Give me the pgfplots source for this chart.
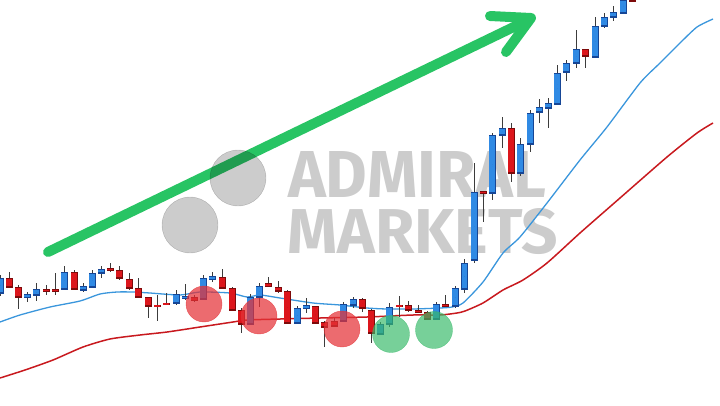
\documentclass[border=0pt]{standalone}
\usepackage{fontspec}
\usepackage{graphicx}
\usepackage{pgfplots}
\usepackage{pgfplotstable}
\pgfplotsset{compat=1.18}
\newfontfamily\wmfont{Fira Sans}
\definecolor{bluefill}{RGB}{48,138,228}
\definecolor{bluedark}{RGB}{22,70,150}
\definecolor{redfill}{RGB}{220,22,28}
\definecolor{reddark}{RGB}{125,10,10}
\definecolor{wick}{RGB}{60,60,60}
\definecolor{mablue}{RGB}{58,150,220}
\definecolor{mared}{RGB}{200,25,30}
\definecolor{arrowgreen}{RGB}{40,196,100}
\definecolor{wmgray}{RGB}{204,204,204}
\definecolor{circred}{RGB}{228,50,55}
\definecolor{circgreen}{RGB}{55,185,105}

\pgfplotstableread{
x top bot hi lo
0 278 293 275 296
27 294 297 292 302
36 289 295 283 301
64 272 289 266 289
83 286 290 283 292
92 273 287 270 287
101 269 273 266 278
176 294 303 290 305
185 296 298 284 300
203 278 299 275 299
212 276 279 272 282
250 297 324 294 325
259 286 297 283 307
297 308 323 306 324
306 305 308 298 313
343 304 321 302 322
353 299 305 297 308
380 324 334 322 335
389 307 324 303 327
436 304 319 302 320
455 288 306 286 308
464.5 263 289 259 293
474 192 260 163 263
492 135 193 133 200
502 128 135 117 148
520 144 173 138 176
530 113 144 110 152
539 107 112 99 123
548 103 108 98 128
557 73 104 65 104
566 63 72 60 81
576 49 63 30 68
595 26 57 17 57
604 17 26 13 28
613 12 17 6 21
623 0 13 -3 14
}\bluetab

\pgfplotstableread{
x top bot hi lo
9 278 287 272 288
18 287 297 285 309
46 289 291 285 295
55 289 291 273 295
74 272 289 270 290
110 268 270 263 272
119 270 278 266 280
129 279 288 273 290
138 288 297 278 297
148 297 306 297 318
157 305 306 295 321
166 303 304 293 305
194 297 300 295 302
222 277 288 269 289
232 288 310 287 311
241 310 324 308 333
268 283 286 277 287
278 287 291 281 293
287 291 323 290 324
315 306 323 306 324
324 322 327 321 347
334 321 326 318 327
362 299 308 298 312
371 310 333 309 343
399 305 306 296 317
408 305 310 301 312
418 310 312 305 313
427 312 319 311 320
445 304 306 295 306
483 191 193 191 222
511 128 173 123 182
585 49 56 49 68
632 -3 1 -5 2
}\redtab

\pgfplotsset{
  wickstyle/.style={only marks, mark size=0pt, mark options={draw=none, fill=none}, forget plot,
    error bars/.cd, y dir=both, y explicit, error mark=none,
    error bar style={draw=wick, solid, line width=1pt}},
  bodystyle/.style 2 args={only marks, mark size=0pt, mark options={draw=none, fill=none}, forget plot,
    error bars/.cd, y dir=both, y explicit, error mark=none,
    error bar style={draw=#1, solid, line width=#2}},
}

\begin{document}
\begin{tikzpicture}
\begin{axis}[
  width=720pt, height=405pt, scale only axis,
  xmin=0, xmax=720, ymin=0, ymax=405, y dir=reverse,
  axis line style={draw=none}, xtick=\empty, ytick=\empty,
  clip=true,
]
% green arrow
\addplot[arrowgreen, line width=10pt, line cap=round, forget plot] coordinates {(48,252) (524,22)};
\addplot[arrowgreen, line width=10pt, line cap=round, line join=round, forget plot] coordinates {(490,16) (531,18) (506,52)};

% watermark
\begin{scope}[blend mode=multiply]
\addplot[wmgray, only marks, mark=*, mark size=28pt, forget plot] coordinates {(238,178) (190,225)};
\node[anchor=north west, inner sep=0pt, text=wmgray] at (axis cs:288,151) {\resizebox{258pt}{46pt}{\wmfont\bfseries ADMIRAL}};
\node[anchor=north west, inner sep=0pt, text=wmgray] at (axis cs:287,208) {\resizebox{271pt}{45pt}{\wmfont\bfseries MARKETS}};
\end{scope}

% moving averages
\addplot[mablue, line width=1.3pt, smooth, tension=0.4, forget plot] coordinates {
(0,322) (20,315) (50,307) (80,301) (100,294) (117,292) (133,292) (150,293) (180,295) (200,292) (230,293) (247,297) (260,295) (280,298) (313,303) (340,305) (367,308) (387,309) (413,309) (440,308) (452,307) (463,303) (483,282) (503,253) (520,237) (547,203) (580,160) (607,127) (640,83) (660,63) (680,43) (697,27) (713,19)};
\addplot[mared, line width=1.5pt, smooth, tension=0.4, forget plot] coordinates {
(0,378) (25,370) (53,360) (83,347) (110,339) (140,335) (167,332) (200,327) (233,322) (247,320) (280,319) (320,318) (367,317) (413,315) (440,315) (457,313) (465,311) (483,303) (503,290) (523,280) (547,263) (580,233) (620,198) (667,157) (697,133) (713,123)};

% wicks
\addplot[wickstyle] table[x=x, y expr={(\thisrow{hi}+\thisrow{lo})/2}, y error expr={(\thisrow{lo}-\thisrow{hi})/2}] {\bluetab};
\addplot[wickstyle] table[x=x, y expr={(\thisrow{hi}+\thisrow{lo})/2}, y error expr={(\thisrow{lo}-\thisrow{hi})/2}] {\redtab};
% bodies
\addplot[bodystyle={bluedark}{7pt}] table[x=x, y expr={(\thisrow{top}+\thisrow{bot})/2}, y error expr={(\thisrow{bot}-\thisrow{top})/2+0.5}] {\bluetab};
\addplot[bodystyle={bluefill}{5.2pt}] table[x=x, y expr={(\thisrow{top}+\thisrow{bot})/2}, y error expr={max((\thisrow{bot}-\thisrow{top})/2-0.6,0.1)}] {\bluetab};
\addplot[bodystyle={reddark}{7pt}] table[x=x, y expr={(\thisrow{top}+\thisrow{bot})/2}, y error expr={(\thisrow{bot}-\thisrow{top})/2+0.5}] {\redtab};
\addplot[bodystyle={redfill}{5.2pt}] table[x=x, y expr={(\thisrow{top}+\thisrow{bot})/2}, y error expr={max((\thisrow{bot}-\thisrow{top})/2-0.6,0.1)}] {\redtab};

% highlight circles
\addplot[circred, only marks, mark=*, mark size=18pt, opacity=0.72, forget plot] coordinates {(204,304) (259,316) (342,329)};
\addplot[circgreen, only marks, mark=*, mark size=18.5pt, opacity=0.68, forget plot] coordinates {(391,334) (434,330)};
\end{axis}
\end{tikzpicture}
\end{document}
